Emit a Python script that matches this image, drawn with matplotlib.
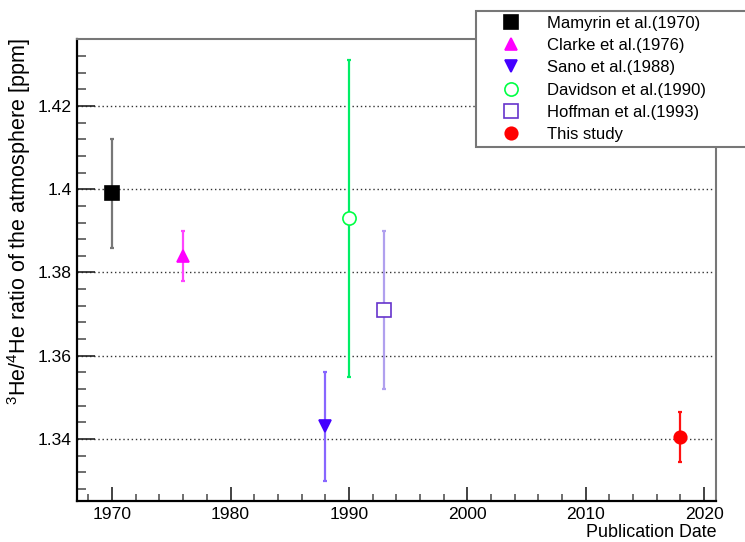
import matplotlib
matplotlib.use("Agg")
import matplotlib.pyplot as plt
from matplotlib.lines import Line2D
from matplotlib.ticker import MultipleLocator, FixedLocator, FuncFormatter

plt.rcParams['font.family'] = ['Liberation Sans', 'DejaVu Sans']
plt.rcParams['mathtext.fontset'] = 'custom'
plt.rcParams['mathtext.rm'] = 'Liberation Sans'
plt.rcParams['mathtext.it'] = 'Liberation Sans:italic'

# ---- data ----
labels = ["Mamyrin et al.(1970)", "Clarke et al.(1976)", "Sano et al.(1988)",
          "Davidson et al.(1990)", "Hoffman et al.(1993)", "This study"]
years = [1970, 1976, 1988, 1990, 1993, 2018]
ratios = [1.399, 1.384, 1.343, 1.393, 1.371, 1.3405]
errors = [0.013, 0.006, 0.013, 0.038, 0.019, 0.006]
yticks = [1.34, 1.36, 1.38, 1.40, 1.42]
xticks = [1970, 1980, 1990, 2000, 2010, 2020]

# ---- styles ----
markers = ['s', '^', 'v', 'o', 's', 'o']
mcolors = ['#000000', '#ff00ff', '#4400ff', '#00ff44', '#6633cc', '#ff0000']
mfaces = ['#000000', '#ff00ff', '#4400ff', 'white', 'white', '#ff0000']
ecolors = ['#777777', '#ff44ff', '#8866ff', '#00ee66', '#b0a0ee', '#ff1111']
msizes = [9.5, 9, 9, 9.5, 9.5, 9]

W, H = 745, 542
fig = plt.figure(figsize=(W / 100, H / 100), dpi=100)
ax = fig.add_axes([76.6 / W, 1 - 501 / H, (716 - 76.6) / W, (501 - 39) / H])

for i in range(len(years)):
    ax.errorbar(years[i], ratios[i], yerr=errors[i], fmt='none',
                ecolor=ecolors[i], elinewidth=1.6, capsize=1.6, capthick=1.6, zorder=3)
    ax.plot(years[i], ratios[i], marker=markers[i], ms=msizes[i], color=mcolors[i],
            mfc=mfaces[i], mec=mcolors[i], mew=1.2, ls='none', zorder=4)

ax.set_xlim(1967, 2021)
ax.set_ylim(1.3251, 1.4361)

ax.xaxis.set_major_locator(FixedLocator(xticks))
ax.xaxis.set_minor_locator(MultipleLocator(2))
ax.yaxis.set_major_locator(FixedLocator(yticks))
ax.yaxis.set_minor_locator(MultipleLocator(0.004))
ax.yaxis.set_major_formatter(FuncFormatter(lambda v, p: ('%.2f' % v).rstrip('0').rstrip('.')))

ax.tick_params(axis='y', which='major', direction='in', length=13, width=1.2,
               color='#222222', labelsize=12.6, pad=3.6, right=False)
ax.tick_params(axis='y', which='minor', direction='in', length=6.5, width=1.2,
               color='#555555', right=False)
ax.tick_params(axis='x', which='major', direction='in', length=10, width=1.2,
               color='#222222', labelsize=12.6, pad=4.5, top=False)
ax.tick_params(axis='x', which='minor', direction='in', length=5, width=1.2,
               color='#555555', top=False)

ax.grid(axis='y', which='major', color='#333333', linestyle=(0, (1, 2)), linewidth=1.0)
ax.set_axisbelow(True)

ax.spines['left'].set_color('#000000')
ax.spines['bottom'].set_color('#000000')
ax.spines['left'].set_linewidth(1.6)
ax.spines['bottom'].set_linewidth(1.6)
ax.spines['right'].set_color('#777777')
ax.spines['top'].set_color('#777777')
ax.spines['right'].set_linewidth(1.5)
ax.spines['top'].set_linewidth(1.5)

fig.text(716 / W, 1 - 537 / H, "Publication Date", ha='right', va='baseline', fontsize=12.9)
fig.text(19 / W, 1 - 38 / H, r"$^{3}$He/$^{4}$He ratio of the atmosphere [ppm]",
         rotation=90, ha='center', va='top', fontsize=15.5)

handles = [Line2D([], [], marker=markers[i], ms=msizes[i], color=mcolors[i],
                  mfc=mfaces[i], mec=mcolors[i], mew=1.2, ls='none')
           for i in range(len(years))]
leg = fig.legend(handles, labels, loc='upper left',
                 bbox_to_anchor=(476 / W, 1 - 155 / H, 300 / W, 144 / H),
                 bbox_transform=fig.transFigure, mode='expand', borderaxespad=0,
                 fontsize=12, frameon=True, fancybox=False, framealpha=1,
                 edgecolor='#777777', borderpad=0.3, labelspacing=0.43,
                 handlelength=3.6, handletextpad=0.34)
leg.get_frame().set_linewidth(1.5)

fig.savefig("out.png", dpi=100)
